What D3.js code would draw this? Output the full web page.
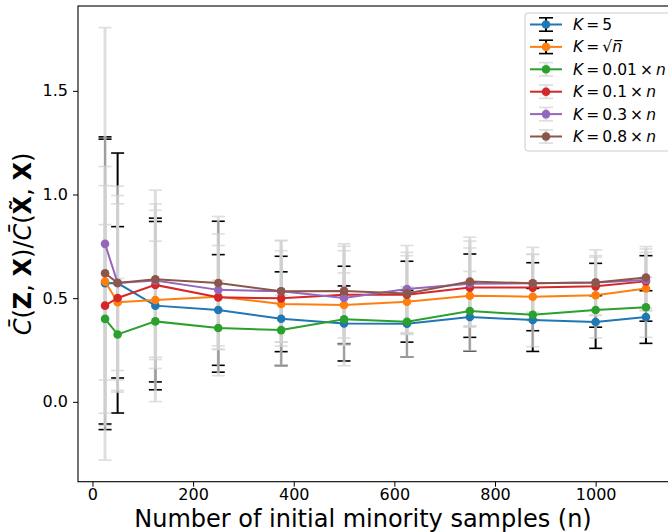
<!DOCTYPE html>
<html>
<head>
<meta charset="utf-8">
<script src="https://cdn.jsdelivr.net/npm/d3@7"></script>
<style>
  body { margin: 0; background: #fff; }
  svg { display: block; font-family: "DejaVu Sans", sans-serif; }
</style>
</head>
<body>
<div id="chart"></div>
<script>
// Number of initial minority samples.
const nValues = [25, 50, 125, 250, 375, 500, 625, 750, 875, 1000, 1100];

// Mean ratio per K setting.
const meanK5    = [0.572, 0.573, 0.464, 0.443, 0.401, 0.378, 0.377, 0.409, 0.395, 0.385, 0.409];
const meanKsqrt = [0.580, 0.480, 0.491, 0.507, 0.472, 0.467, 0.483, 0.512, 0.507, 0.514, 0.547];
const meanK001  = [0.400, 0.325, 0.388, 0.356, 0.346, 0.398, 0.386, 0.438, 0.420, 0.443, 0.456];
const meanK01   = [0.464, 0.501, 0.564, 0.504, 0.499, 0.517, 0.517, 0.551, 0.551, 0.557, 0.581];
const meanK03   = [0.762, 0.573, 0.585, 0.540, 0.533, 0.501, 0.544, 0.570, 0.572, 0.575, 0.588];
const meanK08   = [0.620, 0.573, 0.591, 0.573, 0.533, 0.535, 0.523, 0.580, 0.572, 0.575, 0.600];

// Standard deviations (error bars).
const stdK5    = [0.706, 0.627, 0.406, 0.267, 0.226, 0.181, 0.160, 0.164, 0.152, 0.127, 0.127];
const stdKsqrt = [0.687, 0.365, 0.395, 0.364, 0.230, 0.187, 0.195, 0.201, 0.164, 0.154, 0.158];
const stdK001  = [0.455, 0.270, 0.387, 0.230, 0.169, 0.224, 0.169, 0.191, 0.154, 0.135, 0.145];
const stdK01   = [0.579, 0.454, 0.360, 0.250, 0.230, 0.233, 0.188, 0.191, 0.160, 0.140, 0.140];
const stdK03   = [1.043, 0.422, 0.370, 0.270, 0.245, 0.228, 0.210, 0.205, 0.140, 0.130, 0.149];
const stdK08   = [0.515, 0.467, 0.430, 0.321, 0.245, 0.227, 0.198, 0.214, 0.173, 0.158, 0.149];

// thin spaces as in mathtext
const legendLabels = ["K\u2009=\u20095", "K\u2009=\u2009\u221An\u0305", "K\u2009=\u20090.01\u2009\u00d7\u2009n",
                      "K\u2009=\u20090.1\u2009\u00d7\u2009n", "K\u2009=\u20090.3\u2009\u00d7\u2009n", "K\u2009=\u20090.8\u2009\u00d7\u2009n"];
const xTicks = [0, 200, 400, 600, 800, 1000];
const yTicks = [0.0, 0.5, 1.0, 1.5];

const colors  = ["#1f77b4", "#ff7f0e", "#2ca02c", "#d62728", "#9467bd", "#8c564b"];
const ecolors = ["black", "black", "lightgray", "lightgray", "lightgray", "lightgray"];

const series = [
  {mean: meanK5, std: stdK5},
  {mean: meanKsqrt, std: stdKsqrt},
  {mean: meanK001, std: stdK001},
  {mean: meanK01, std: stdK01},
  {mean: meanK03, std: stdK03},
  {mean: meanK08, std: stdK08}
].map((s, i) => ({
  ...s, color: colors[i], ecolor: ecolors[i], label: legendLabels[i],
  pts: s.mean.map((m, j) => ({n: nValues[j], m: m, s: s.std[j]}))
}));

const W = 668, H = 532;
const margin = {left: 78, right: 673, top: 6, bottom: 481.7};

const svg = d3.select("#chart").append("svg")
    .attr("width", W).attr("height", H);

// matplotlib-like 5% margins
const xmin = d3.min(nValues), xmax = d3.max(nValues);
const xpad = (xmax - xmin) * 0.05;
const x = d3.scaleLinear().domain([xmin - xpad, xmax + xpad]).range([margin.left, margin.right]);

const ylo = d3.min(series, s => d3.min(s.pts, p => p.m - p.s));
const yhi = d3.max(series, s => d3.max(s.pts, p => p.m + p.s));
const ypad = (yhi - ylo) * 0.05;
const y = d3.scaleLinear().domain([ylo - ypad, yhi + ypad]).range([margin.bottom, margin.top]);

// Error bars first.
series.forEach(s => {
  const black = s.ecolor === "black";
  const g = svg.append("g")
      .attr("stroke", s.ecolor)
      .attr("opacity", black ? 1 : 0.75);
  g.selectAll("line.bar").data(s.pts).join("line")
      .attr("class", "bar")
      .attr("x1", d => x(d.n)).attr("x2", d => x(d.n))
      .attr("y1", d => y(d.m - d.s)).attr("y2", d => y(d.m + d.s))
      .attr("stroke-width", black ? 2 : 3);
  [-1, 1].forEach(sign => {
    g.selectAll("line.cap" + (sign > 0 ? "up" : "dn")).data(s.pts).join("line")
        .attr("class", "cap" + (sign > 0 ? "up" : "dn"))
        .attr("x1", d => x(d.n) - 6.5).attr("x2", d => x(d.n) + 6.5)
        .attr("y1", d => y(d.m + sign * d.s)).attr("y2", d => y(d.m + sign * d.s))
        .attr("stroke-width", 1.6);
  });
});

// Lines and markers.
const line = d3.line().x(d => x(d.n)).y(d => y(d.m));
series.forEach(s => {
  svg.append("path").datum(s.pts)
      .attr("fill", "none")
      .attr("stroke", s.color)
      .attr("stroke-width", 2)
      .attr("d", line);
  svg.append("g").selectAll("circle").data(s.pts).join("circle")
      .attr("cx", d => x(d.n)).attr("cy", d => y(d.m))
      .attr("r", 4.3)
      .attr("fill", s.color);
});

// Axes.
const xAxis = svg.append("g")
    .attr("transform", `translate(0,${margin.bottom})`)
    .call(d3.axisBottom(x).tickValues(xTicks).tickSize(5).tickPadding(2).tickFormat(d3.format("d")));
const yAxis = svg.append("g")
    .attr("transform", `translate(${margin.left},0)`)
    .call(d3.axisLeft(y).tickValues(yTicks).tickSize(5).tickPadding(5).tickFormat(d3.format(".1f")));
[xAxis, yAxis].forEach(a => {
  a.selectAll("text").attr("font-size", 16).attr("font-family", "DejaVu Sans").attr("fill", "#000");
  a.selectAll("line").attr("stroke", "#000");
  a.select(".domain").remove();
});

// Frame.
svg.append("rect")
    .attr("x", margin.left).attr("y", margin.top)
    .attr("width", margin.right - margin.left).attr("height", margin.bottom - margin.top)
    .attr("fill", "none").attr("stroke", "#000").attr("stroke-width", 1.1);

// Axis titles.
svg.append("text")
    .attr("x", 363).attr("y", 526.8)
    .attr("text-anchor", "middle")
    .attr("font-size", 24)
    .text("Number of initial minority samples (n)");

const yl = svg.append("text")
    .attr("transform", `translate(31,244) rotate(-90)`)
    .attr("text-anchor", "middle")
    .attr("font-size", 24);
[["C\u0304", "i"], ["(", ""], ["Z", "b"], [", ", ""], ["X", "b"], [")/", ""],
 ["C\u0304", "i"], ["(", ""], ["X\u0303", "b"], [", ", ""], ["X", "b"], [")", ""]]
  .forEach(([t, st]) => {
    yl.append("tspan")
      .attr("font-style", st === "i" ? "italic" : null)
      .attr("font-weight", st === "b" ? "bold" : null)
      .text(t);
  });

// Legend.
const lg = svg.append("g").attr("transform", "translate(525,13)");
lg.append("rect")
    .attr("width", 150).attr("height", 138)
    .attr("rx", 3)
    .attr("fill", "#fff").attr("fill-opacity", 0.8)
    .attr("stroke", "#ccc");
series.forEach((s, i) => {
  const cy = 11.5 + i * 22.4;
  const row = lg.append("g").attr("transform", `translate(0,${cy})`);
  const black = s.ecolor === "black";
  const eg = row.append("g").attr("stroke", s.ecolor).attr("opacity", black ? 1 : 0.75);
  eg.append("line").attr("x1", 21).attr("x2", 21).attr("y1", -6.7).attr("y2", 6.7)
    .attr("stroke-width", black ? 2 : 3);
  eg.append("line").attr("x1", 14).attr("x2", 28).attr("y1", -6.7).attr("y2", -6.7).attr("stroke-width", 1.6);
  eg.append("line").attr("x1", 14).attr("x2", 28).attr("y1", 6.7).attr("y2", 6.7).attr("stroke-width", 1.6);
  row.append("line").attr("x1", 5).attr("x2", 37).attr("y1", 0).attr("y2", 0)
    .attr("stroke", s.color).attr("stroke-width", 2);
  row.append("circle").attr("cx", 21).attr("cy", 0).attr("r", 4.3).attr("fill", s.color);
  const t = row.append("text").attr("x", 48).attr("y", 5.5).attr("font-size", 15.5);
  s.label.split(/([Kn]\u0305?)/).filter(p => p.length).forEach(p => {
    t.append("tspan")
      .attr("font-style", /^[Kn]/.test(p) ? "italic" : null)
      .text(p);
  });
});
</script>
</body>
</html>
